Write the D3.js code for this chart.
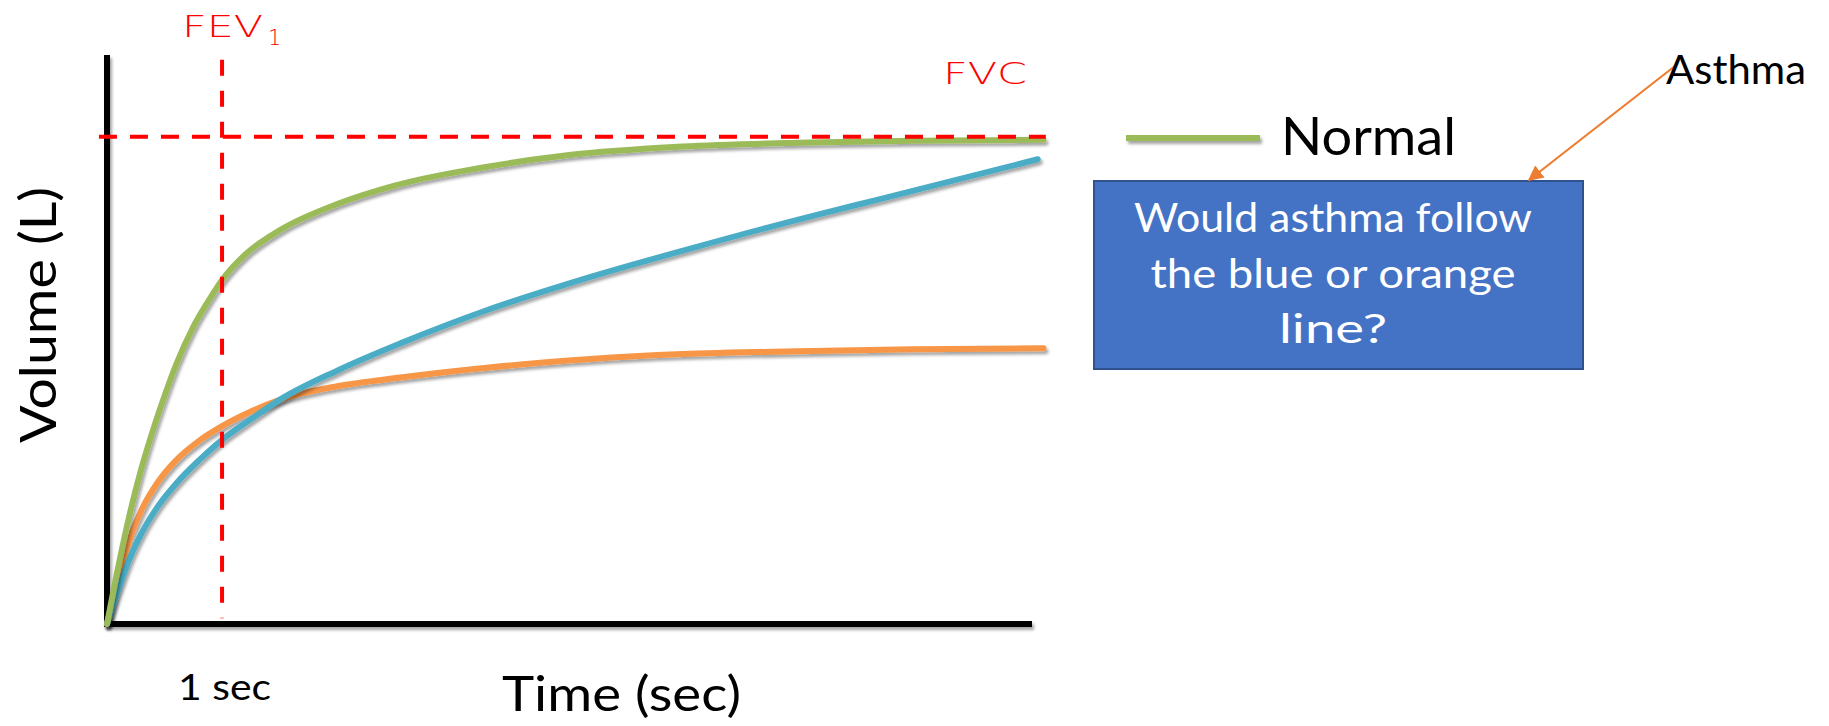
<!DOCTYPE html>
<html>
<head>
<meta charset="utf-8">
<script src="https://cdn.jsdelivr.net/npm/d3@7"></script>
<style>
  html, body { margin: 0; padding: 0; background: #ffffff; }
  svg { display: block; }
  text { font-family: Lato, "Open Sans", sans-serif; }
</style>
</head>
<body>
<svg id="chart" width="1829" height="726"></svg>
<script>
// ---- Data ----
const seriesNames = ["Orange", "Blue", "Normal"];
const normalTime   = [0, 0.1, 0.2, 0.3, 0.4, 0.5, 0.6, 0.75, 0.9, 1.0, 1.2, 1.5, 2.0, 2.5, 3.24, 4.0, 5.0, 6.0, 7.0, 8.14];
const normalVolume = [0, 0.60, 1.14, 1.60, 1.99, 2.34, 2.66, 3.05, 3.35, 3.53, 3.79, 4.04, 4.31, 4.50, 4.68, 4.81, 4.90, 4.94, 4.96, 4.97];
const blueTime     = [0, 0.1, 0.2, 0.3, 0.45, 0.6, 0.8, 1.0, 1.25, 1.5, 2.0, 2.55, 3.3, 4.14, 5.0, 6.17, 6.72, 8.09];
const blueVolume   = [0, 0.36, 0.68, 0.93, 1.22, 1.44, 1.68, 1.89, 2.10, 2.30, 2.60, 2.88, 3.22, 3.54, 3.83, 4.20, 4.36, 4.77];
const orangeTime   = [0, 0.1, 0.2, 0.3, 0.45, 0.6, 0.8, 1.0, 1.25, 1.5, 2.0, 2.55, 3.3, 4.2, 5.0, 6.0, 7.0, 8.14];
const orangeVolume = [0, 0.47, 0.88, 1.17, 1.47, 1.68, 1.88, 2.03, 2.18, 2.30, 2.44, 2.53, 2.63, 2.72, 2.77, 2.80, 2.82, 2.83];
const fev1Time = 1;      // FEV1 marker at 1 sec
const fvcVolume = 5;     // FVC level
const xAxisLabel = "Time (sec)";
const yAxisLabel = "Volume (L)";
const tickLabel = "1 sec";
const legendLabel = "Normal";
const questionLines = ["Would asthma follow", "the blue or orange", "line?"];
const calloutLabel = "Asthma";

// ---- Scales ----
const x = d3.scaleLinear().domain([0, 8.04]).range([107, 1032]);
const y = d3.scaleLinear().domain([0, 5.84]).range([624, 55]);

const svg = d3.select("#chart");
const defs = svg.append("defs");
const f = defs.append("filter").attr("id", "shadow")
  .attr("filterUnits", "userSpaceOnUse")
  .attr("x", 0).attr("y", 0).attr("width", 1829).attr("height", 726);
f.append("feDropShadow").attr("dx", 2).attr("dy", 3).attr("stdDeviation", 1.6)
  .attr("flood-color", "#000").attr("flood-opacity", 0.35);

defs.append("marker").attr("id", "arrowhead")
  .attr("viewBox", "0 0 10 10").attr("refX", 9).attr("refY", 5)
  .attr("markerWidth", 7).attr("markerHeight", 7).attr("orient", "auto")
  .append("path").attr("d", "M0,0 L10,5 L0,10 Z").attr("fill", "#ED7D31");

// ---- Axes (lines from scale ranges) ----
const axes = svg.append("g").attr("filter", "url(#shadow)");
axes.append("line")
  .attr("x1", x.range()[0] - 3).attr("x2", x.range()[1])
  .attr("y1", y(0)).attr("y2", y(0))
  .attr("stroke", "#000").attr("stroke-width", 6);
axes.append("line")
  .attr("x1", x(0)).attr("x2", x(0))
  .attr("y1", y.range()[1]).attr("y2", y(0) + 3)
  .attr("stroke", "#000").attr("stroke-width", 6);

// ---- Curves ----
const line = d3.line().x(d => x(d[0])).y(d => y(d[1])).curve(d3.curveMonotoneX);
const series = [
  { name: "Orange", t: orangeTime, v: orangeVolume, color: "#F79646" },
  { name: "Blue",   t: blueTime,   v: blueVolume,   color: "#4BACC6" },
  { name: "Normal", t: normalTime, v: normalVolume, color: "#9BBB59" }
];
svg.append("g").selectAll("path").data(series).join("path")
  .attr("d", s => line(s.t.map((t, i) => [t, s.v[i]])))
  .attr("fill", "none").attr("stroke", s => s.color)
  .attr("stroke-width", 6).attr("stroke-linecap", "round")
  .attr("filter", "url(#shadow)");

// ---- Reference dashed lines ----
svg.append("line")
  .attr("x1", x(-0.07)).attr("x2", x(8.16))
  .attr("y1", y(fvcVolume)).attr("y2", y(fvcVolume))
  .attr("stroke", "#FF0000").attr("stroke-width", 4).attr("stroke-dasharray", "18,13");
svg.append("line")
  .attr("x1", x(fev1Time)).attr("x2", x(fev1Time))
  .attr("y1", y(5.79)).attr("y2", y(0.06))
  .attr("stroke", "#FF0000").attr("stroke-width", 4).attr("stroke-dasharray", "16,15");

// ---- Red labels ----
const fev = svg.append("text").attr("x", 182).attr("y", 37)
  .attr("fill", "#FF0000").style("font-family", "'DejaVu Sans', sans-serif")
  .attr("font-weight", 200).attr("font-size", 31);
fev.append("tspan").text("FEV").attr("textLength", 81).attr("lengthAdjust", "spacingAndGlyphs");
fev.append("tspan").text("1").attr("font-size", 21).attr("dx", 5).attr("dy", 8);
svg.append("text").attr("x", 943).attr("y", 84).text("FVC")
  .attr("fill", "#FF0000").style("font-family", "'DejaVu Sans', sans-serif")
  .attr("font-weight", 200).attr("font-size", 31)
  .attr("textLength", 84).attr("lengthAdjust", "spacingAndGlyphs");

// ---- Axis labels ----
svg.append("text").attr("x", 178).attr("y", 700).text(tickLabel)
  .attr("font-size", 37).attr("fill", "#000")
  .attr("textLength", 93).attr("lengthAdjust", "spacingAndGlyphs");
svg.append("text").attr("x", 502).attr("y", 711).text(xAxisLabel)
  .attr("font-size", 48).attr("fill", "#000")
  .attr("textLength", 239).attr("lengthAdjust", "spacingAndGlyphs");
svg.append("text").attr("transform", "translate(56,443) rotate(-90)").text(yAxisLabel)
  .attr("font-size", 50).attr("fill", "#000")
  .attr("textLength", 256).attr("lengthAdjust", "spacingAndGlyphs");

// ---- Legend ----
svg.append("line").attr("x1", 1126).attr("x2", 1260).attr("y1", 138).attr("y2", 138)
  .attr("stroke", "#9BBB59").attr("stroke-width", 6).attr("filter", "url(#shadow)");
svg.append("text").attr("x", 1281).attr("y", 155).text(legendLabel)
  .attr("font-size", 52).attr("fill", "#000")
  .attr("textLength", 175).attr("lengthAdjust", "spacingAndGlyphs");

// ---- Question box ----
svg.append("rect").attr("x", 1094).attr("y", 181).attr("width", 489).attr("height", 188)
  .attr("fill", "#4472C4").attr("stroke", "#2F528F").attr("stroke-width", 2);
const qWidths = [398, 365, 108];
svg.append("g").selectAll("text").data(questionLines).join("text")
  .attr("x", 1333).attr("y", (d, i) => 232 + i * 55.5)
  .attr("text-anchor", "middle").attr("fill", "#fff").attr("font-size", 40)
  .attr("textLength", (d, i) => qWidths[i]).attr("lengthAdjust", "spacingAndGlyphs")
  .text(d => d);

// ---- Callout ----
svg.append("line").attr("x1", 1675).attr("y1", 66).attr("x2", 1529).attr("y2", 180)
  .attr("stroke", "#ED7D31").attr("stroke-width", 2.2).attr("marker-end", "url(#arrowhead)");
svg.append("text").attr("x", 1666).attr("y", 84).text(calloutLabel)
  .attr("font-size", 40).attr("fill", "#000")
  .attr("textLength", 140).attr("lengthAdjust", "spacingAndGlyphs");
</script>
</body>
</html>
